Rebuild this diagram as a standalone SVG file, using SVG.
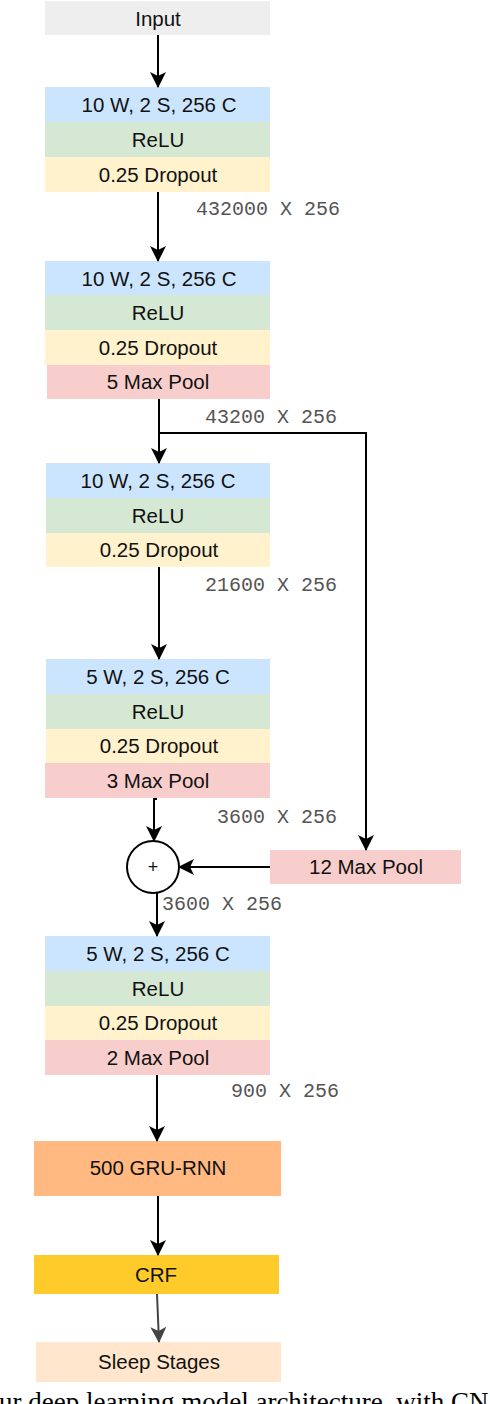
<svg xmlns="http://www.w3.org/2000/svg" width="490" height="1404" viewBox="0 0 490 1404">
<style>
.t{font-family:"Liberation Sans",Arial,sans-serif;font-size:20.5px;fill:#111;text-anchor:middle}
.m{font-family:"Liberation Mono","Courier New",monospace;font-size:20px;fill:#555}
.c{fill:none;stroke:#000;stroke-width:2}
.conv{fill:#cce5ff}.relu{fill:#d5e8d4}.drop{fill:#fff2cc}.pool{fill:#f8cecc}
</style>
<defs>
<marker id="ah" markerUnits="userSpaceOnUse" markerWidth="16" markerHeight="16" viewBox="0 0 16 16" refX="15" refY="8" orient="auto">
<path d="M0,0 L16,8 L0,16 L4,8 Z" fill="#000"/>
</marker>
<marker id="ahg" markerUnits="userSpaceOnUse" markerWidth="16" markerHeight="16" viewBox="0 0 16 16" refX="15" refY="8" orient="auto">
<path d="M0,0 L16,8 L0,16 L4,8 Z" fill="#444"/>
</marker>
</defs>
<rect width="490" height="1404" fill="#fff"/>

<g id="input">
<rect x="45" y="1" width="225" height="34" fill="#eeeeee"/>
<text class="t" x="158" y="26">Input</text>
</g>

<g id="block1">
<rect class="conv" x="45" y="87" width="225" height="35"/>
<rect class="relu" x="45" y="122" width="225" height="35"/>
<rect class="drop" x="45" y="157" width="225" height="35"/>
<text class="t" x="159" y="112">10 W, 2 S, 256 C</text>
<text class="t" x="158" y="147">ReLU</text>
<text class="t" x="158" y="182">0.25 Dropout</text>
</g>

<g id="block2">
<rect class="conv" x="45" y="261" width="225" height="34"/>
<rect class="relu" x="45" y="295" width="225" height="35"/>
<rect class="drop" x="45" y="330" width="225" height="35"/>
<rect class="pool" x="47" y="365" width="223" height="34"/>
<text class="t" x="159" y="286">10 W, 2 S, 256 C</text>
<text class="t" x="158" y="320">ReLU</text>
<text class="t" x="158" y="355">0.25 Dropout</text>
<text class="t" x="158" y="389">5 Max Pool</text>
</g>

<g id="block3">
<rect class="conv" x="46" y="463" width="224" height="35"/>
<rect class="relu" x="46" y="498" width="224" height="35"/>
<rect class="drop" x="46" y="533" width="224" height="34"/>
<text class="t" x="158" y="488">10 W, 2 S, 256 C</text>
<text class="t" x="158" y="523">ReLU</text>
<text class="t" x="159" y="557">0.25 Dropout</text>
</g>

<g id="block4">
<rect class="conv" x="46" y="659" width="224" height="35"/>
<rect class="relu" x="46" y="694" width="224" height="35"/>
<rect class="drop" x="46" y="729" width="224" height="34"/>
<rect class="pool" x="45" y="763" width="225" height="35"/>
<text class="t" x="158" y="684">5 W, 2 S, 256 C</text>
<text class="t" x="158" y="719">ReLU</text>
<text class="t" x="159" y="753">0.25 Dropout</text>
<text class="t" x="158" y="788">3 Max Pool</text>
</g>

<g id="add">
<circle cx="153" cy="867" r="26" fill="#fff" stroke="#000" stroke-width="2"/>
<text class="t" x="153" y="873" style="font-size:18px">+</text>
</g>

<g id="pool12">
<rect class="pool" x="270" y="850" width="191" height="34"/>
<text class="t" x="366" y="874">12 Max Pool</text>
</g>

<g id="block5">
<rect class="conv" x="45" y="936" width="225" height="35"/>
<rect class="relu" x="45" y="971" width="225" height="35"/>
<rect class="drop" x="45" y="1006" width="225" height="34"/>
<rect class="pool" x="45" y="1040" width="225" height="35"/>
<text class="t" x="158" y="961">5 W, 2 S, 256 C</text>
<text class="t" x="158" y="996">ReLU</text>
<text class="t" x="158" y="1030">0.25 Dropout</text>
<text class="t" x="158" y="1065">2 Max Pool</text>
</g>

<g id="gru">
<rect x="34" y="1141" width="247" height="55" fill="#ffb981"/>
<text class="t" x="158" y="1175">500 GRU-RNN</text>
</g>

<g id="crf">
<rect x="34" y="1255" width="245" height="39" fill="#fecb2a"/>
<text class="t" x="156" y="1282">CRF</text>
</g>

<g id="sleep">
<rect x="36" y="1342" width="245" height="40" fill="#ffe6cc"/>
<text class="t" x="159" y="1369">Sleep Stages</text>
</g>

<g id="connectors">
<path class="c" d="M158,35 V87" marker-end="url(#ah)"/>
<path class="c" d="M158,192 V261" marker-end="url(#ah)"/>
<path class="c" d="M159,399 V463" marker-end="url(#ah)"/>
<path class="c" d="M159,433 H366 V850" marker-end="url(#ah)"/>
<path class="c" d="M159,567 V659" marker-end="url(#ah)"/>
<path class="c" d="M157,799 H154 V841" marker-end="url(#ah)"/>
<path class="c" d="M270,867 H179" marker-end="url(#ah)"/>
<path class="c" d="M157,892 V936" marker-end="url(#ah)"/>
<path class="c" d="M157,1075 V1141" marker-end="url(#ah)"/>
<path class="c" d="M158,1196 V1255" marker-end="url(#ah)"/>
<path d="M157,1294 L159,1342" fill="none" stroke="#444" stroke-width="2" marker-end="url(#ahg)"/>
</g>

<g id="labels">
<text class="m" x="196" y="215">432000 X 256</text>
<text class="m" x="205" y="423">43200 X 256</text>
<text class="m" x="205" y="591">21600 X 256</text>
<text class="m" x="217" y="823">3600 X 256</text>
<text class="m" x="162" y="910">3600 X 256</text>
<text class="m" x="231" y="1097">900 X 256</text>
</g>

<text x="-1" y="1411" style="font-family:'Liberation Serif','Times New Roman',serif;font-size:27px;fill:#000">ur deep learning model architecture, with CN</text>
</svg>
